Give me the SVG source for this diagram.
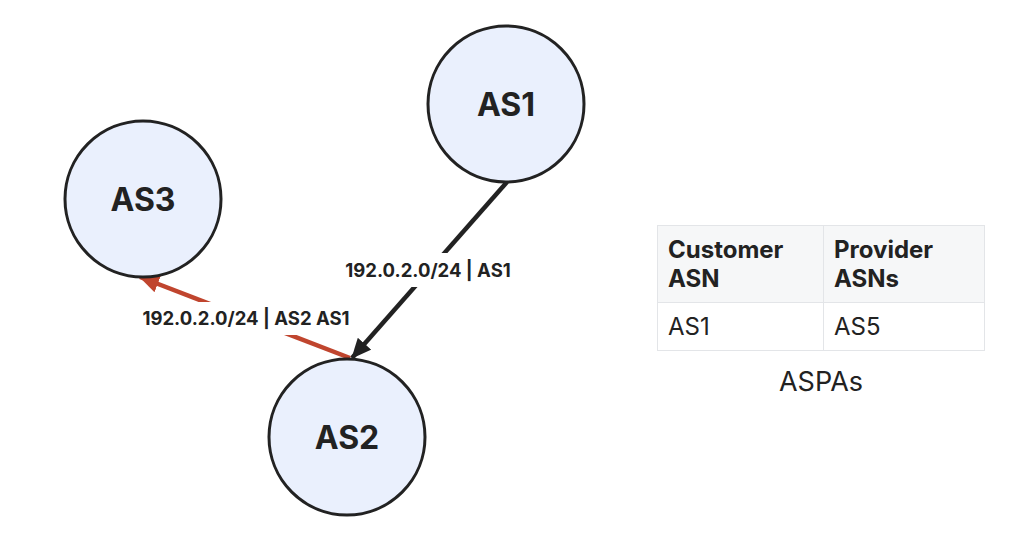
<svg xmlns="http://www.w3.org/2000/svg" width="1024" height="546" viewBox="0 0 1024 546">
<style>
.node circle{fill:#eaf0fd;stroke:#222;stroke-width:3}
.node text{font-family:Inter,"Liberation Sans",sans-serif;font-weight:700;font-size:32px;fill:#222;text-anchor:middle;dominant-baseline:central}
.lbl{font-family:Inter,"Liberation Sans",sans-serif;font-weight:700;font-size:18.5px;fill:#222;text-anchor:middle;dominant-baseline:central}
.th{font-family:Inter,"Liberation Sans",sans-serif;font-weight:700;font-size:24px;fill:#222}
.td{font-family:Inter,"Liberation Sans",sans-serif;font-size:24px;fill:#222}
</style>
<defs>
<marker id="ab" viewBox="0 0 20 18" refX="19" refY="9" markerWidth="20" markerHeight="18" markerUnits="userSpaceOnUse" orient="auto"><path d="M0,0 L20,9 L0,18 z" fill="#222"/></marker>
<marker id="ar" viewBox="0 0 20 18" refX="19" refY="9" markerWidth="20" markerHeight="18" markerUnits="userSpaceOnUse" orient="auto"><path d="M0,0 L20,9 L0,18 z" fill="#c0452e"/></marker>
</defs>
<rect width="1024" height="546" fill="#fff"/>
<g id="connectors">
<line x1="507" y1="182" x2="352" y2="358" stroke="#222" stroke-width="4.5" marker-end="url(#ab)"/>
<line x1="350" y1="358" x2="140" y2="277" stroke="#c0452e" stroke-width="4.5" marker-end="url(#ar)"/>
<rect x="336" y="253" width="184" height="34" fill="#fff"/>
<text class="lbl" x="428" y="270">192.0.2.0/24 | AS1</text>
<rect x="134" y="302" width="224" height="33" fill="#fff"/>
<text class="lbl" x="246" y="318">192.0.2.0/24 | AS2 AS1</text>
</g>
<g id="AS1" class="node"><circle cx="506" cy="104" r="78"/><text x="506" y="104">AS1</text></g>
<g id="AS3" class="node"><circle cx="143" cy="199" r="78"/><text x="143" y="199">AS3</text></g>
<g id="AS2" class="node"><circle cx="347" cy="437" r="78"/><text x="347" y="437">AS2</text></g>
<g id="table">
<rect x="657.5" y="225.5" width="327" height="77" fill="#f6f7f8" stroke="#e3e5e8"/>
<rect x="657.5" y="302.5" width="327" height="48" fill="#fff" stroke="#e3e5e8"/>
<line x1="823.5" y1="225" x2="823.5" y2="351" stroke="#e3e5e8"/>
<text class="th" x="668" y="258">Customer</text>
<text class="th" x="668" y="287">ASN</text>
<text class="th" x="834" y="258">Provider</text>
<text class="th" x="834" y="287">ASNs</text>
<text class="td" x="668" y="335">AS1</text>
<text class="td" x="834" y="335">AS5</text>
<text x="821" y="391" style="font-family:Inter,'Liberation Sans',sans-serif;font-size:27px;fill:#222;text-anchor:middle">ASPAs</text>
</g>
</svg>
